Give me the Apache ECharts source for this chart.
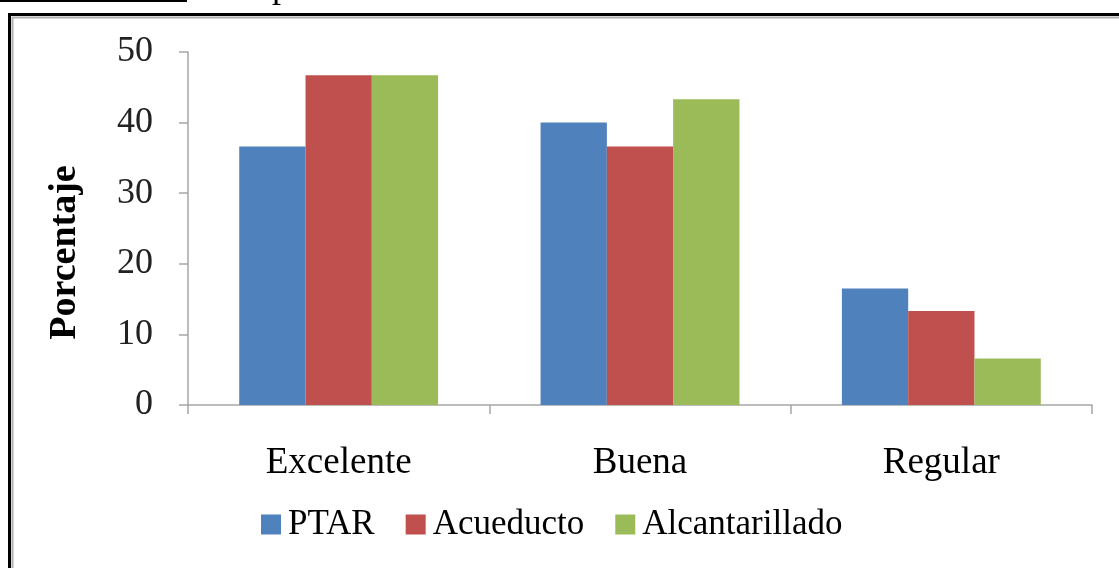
<!DOCTYPE html>
<html>
<head>
<meta charset="utf-8">
<script src="https://cdn.jsdelivr.net/npm/echarts@6/dist/echarts.min.js"></script>
<style>
  html, body { margin: 0; padding: 0; background: #fff; }
  #chart { width: 1119px; height: 568px; }
</style>
</head>
<body>
<div id="chart"></div>
<script>
// calidad percibida por servicio (%)
var categorias = ['Excelente', 'Buena', 'Regular'];
var ptar = [36.6, 40.0, 16.5];
var acueducto = [46.7, 36.6, 13.3];
var alcantarillado = [46.7, 43.3, 6.6];
var ticksY = [0, 10, 20, 30, 40, 50];

var fuente = '"Liberation Serif", "Times New Roman", serif';

var chart = echarts.init(document.getElementById('chart'));
var option = {
    animation: false,
    backgroundColor: '#fff',
    color: ['#4f81bd', '#c0504d', '#9bbb59'],
    graphic: [
        // marco del grafico
        {type: 'rect', shape: {x: 9.5, y: 14.5, width: 1200, height: 600},
            style: {fill: 'none', stroke: '#000', lineWidth: 3}},
        {type: 'rect', shape: {x: 12.5, y: 17.5, width: 1200, height: 600},
            style: {fill: 'none', stroke: '#b0b0b0', lineWidth: 2}},
        // restos del texto de arriba
        {type: 'rect', shape: {x: 0, y: 0, width: 187, height: 2}, style: {fill: '#000'}},
        {type: 'text', x: 272, y: -30, style: {text: 'p', font: '36px ' + fuente, fill: '#000'}}
    ],
    grid: {left: 188, right: 27, top: 52, bottom: 163},
    legend: {
        left: 256,
        top: 502,
        icon: 'rect',
        itemWidth: 20,
        itemHeight: 20,
        itemGap: 31,
        textStyle: {fontFamily: fuente, fontSize: 35, color: '#000', padding: [0, 0, 0, 2]},
        data: ['PTAR', 'Acueducto', 'Alcantarillado']
    },
    xAxis: {
        type: 'category',
        data: categorias,
        axisLine: {lineStyle: {color: '#a6a6a6', width: 1.5}},
        axisTick: {show: true, length: 9, lineStyle: {color: '#a6a6a6', width: 1.5}},
        axisLabel: {fontFamily: fuente, fontSize: 37, color: '#000', margin: 40}
    },
    yAxis: {
        type: 'value',
        min: 0,
        max: 50,
        interval: 10,
        name: 'Porcentaje',
        nameLocation: 'middle',
        nameGap: 104,
        nameTextStyle: {fontFamily: fuente, fontSize: 38, fontWeight: 'bold', color: '#000',
            padding: [0, 48, 0, 0]},
        axisLine: {show: true, lineStyle: {color: '#a6a6a6', width: 1.5}},
        axisTick: {show: true, length: 9, lineStyle: {color: '#a6a6a6', width: 1.5}},
        splitLine: {show: false},
        axisLabel: {
            fontFamily: fuente, fontSize: 36, color: '#222', margin: 35,
            formatter: function (v) { return ticksY.indexOf(v) >= 0 ? String(v) : ''; }
        }
    },
    series: [
        {name: 'PTAR', type: 'bar', data: ptar, barGap: '0%', barCategoryGap: '34%'},
        {name: 'Acueducto', type: 'bar', data: acueducto, barGap: '0%', barCategoryGap: '34%'},
        {name: 'Alcantarillado', type: 'bar', data: alcantarillado, barGap: '0%', barCategoryGap: '34%'}
    ]
};
chart.setOption(option);
window.addEventListener('resize', chart.resize);
</script>
</body>
</html>
